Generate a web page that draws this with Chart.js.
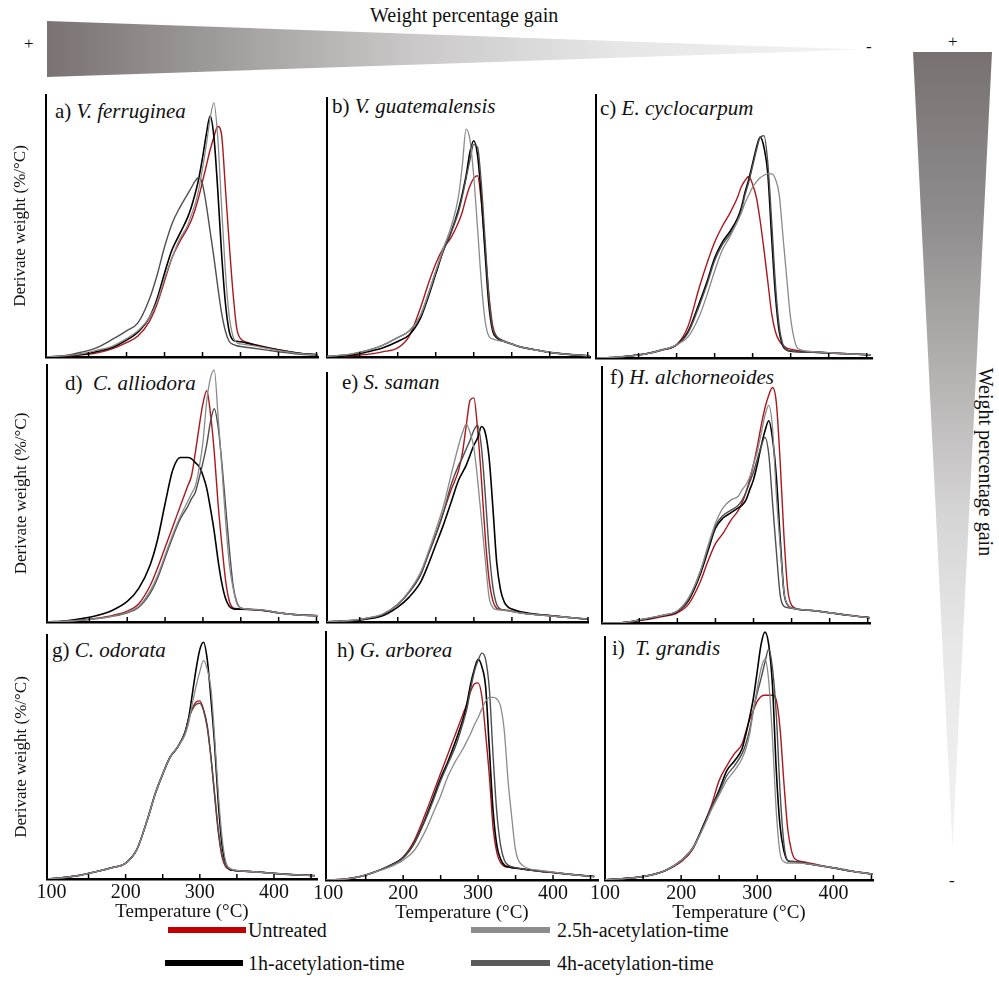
<!DOCTYPE html>
<html><head><meta charset="utf-8">
<script src="https://cdn.jsdelivr.net/npm/chart.js@4.4.0/dist/chart.umd.min.js"></script>
<style>
html,body{margin:0;padding:0;background:#fff;}
body{width:999px;height:995px;position:relative;overflow:hidden;font-family:"Liberation Serif","Times New Roman",serif;color:#111;}
canvas{position:absolute;}
.t{position:absolute;white-space:nowrap;line-height:1;}
.pl{font-size:21px;}
.pl i{font-style:italic;}
.bar{position:absolute;height:6px;}
.lg{font-size:20px;}
.tri{position:absolute;}
</style></head><body>
<div class="tri" id="triTop" style="left:47px;top:21px;width:814px;height:56px;clip-path:polygon(0 0,100% 51%,0 100%);background:linear-gradient(to right,#7a7273 0%,#a19d9d 22%,#cac8c8 45%,#e6e6e6 70%,#f3f3f3 100%);"></div>
<div class="tri" id="triRight" style="left:913px;top:52px;width:79px;height:796px;clip-path:polygon(0 0,100% 0,50% 100%);background:linear-gradient(to bottom,#787172 0%,#8f8b8c 20%,#b3b0b0 40%,#d6d5d5 58%,#e8e8e8 75%,#f2f2f2 100%);"></div>
<div class="t" style="left:24px;top:35px;font-size:17px;">+</div>
<div class="t" style="left:866px;top:38px;font-size:17px;">-</div>
<div class="t" style="left:948px;top:33px;font-size:17px;">+</div>
<div class="t" style="left:949px;top:872px;font-size:17px;">-</div>
<div class="t" style="left:370px;top:5px;font-size:20px;">Weight percentage gain</div>
<div class="t" style="left:975px;top:462px;font-size:20px;transform:translate(0,-50%) rotate(90deg);transform-origin:0 50%;">&nbsp;</div>
<div class="t" id="rtext" style="font-size:20px;position:absolute;left:986px;top:462px;transform:translate(-50%,-50%) rotate(90deg);">Weight percentage gain</div>

<div class="t pl" style="left:55px;top:101px;">a) <i>V. ferruginea</i></div>
<div class="t pl" style="left:332px;top:96px;">b) <i>V. guatemalensis</i></div>
<div class="t pl" style="left:600px;top:98px;">c) <i>E. cyclocarpum</i></div>
<div class="t pl" style="left:65px;top:373px;">d)&nbsp; <i>C. alliodora</i></div>
<div class="t pl" style="left:342px;top:372px;">e) <i>S. saman</i></div>
<div class="t pl" style="left:610px;top:367px;">f) <i>H. alchorneoides</i></div>
<div class="t pl" style="left:52px;top:640px;">g) <i>C. odorata</i></div>
<div class="t pl" style="left:337px;top:640px;">h) <i>G. arborea</i></div>
<div class="t pl" style="left:612px;top:638px;">i)&nbsp; <i>T. grandis</i></div>

<div class="bar" style="left:168px;top:927px;width:78px;background:#c00000;"></div>
<div class="t lg" style="left:248px;top:920px;">Untreated</div>
<div class="bar" style="left:165px;top:960px;width:78px;background:#000;"></div>
<div class="t lg" style="left:248px;top:953px;">1h-acetylation-time</div>
<div class="bar" style="left:471px;top:927px;width:79px;background:#8c8c8c;"></div>
<div class="t lg" style="left:557px;top:920px;">2.5h-acetylation-time</div>
<div class="bar" style="left:471px;top:960px;width:79px;background:#5a5a5a;"></div>
<div class="t lg" style="left:557px;top:953px;">4h-acetylation-time</div>

<script>
// ---- data ----
const temperature = [95,120,140,160,180,200,215,230,240,250,260,270,280,285,290,295,300,305,310,315,320,325,330,335,340,345,350,360,380,400,425,455];
const tickValues = [150,200,250,300,350,400,450];
const tickLabelValues = [100,200,300,400];
const seriesLabels = ['Untreated','1h-acetylation-time','2.5h-acetylation-time','4h-acetylation-time'];

// a) V. ferruginea
const aUntreated = [0,0.3,0.8,1.5,3,5.5,8,13.5,20,29,38,44,49,52,56,61,67,73,79,84,88,85,65,44,25,11,7,5.5,4,2.8,1.5,0.8];
const a1h = [0,0.4,1,2,3.5,6.5,9.5,15,22,32,41,47,53,57,62,68,76,85,92,84,64,40,21,10,6.5,6,5.8,5.2,3.8,2.7,1.5,0.8];
const a25h = [0,0.5,1.2,2.5,4,7,10,15,21,30,38,45,50,54,58,64,72,81,91,97,84,58,33,16,8,5.5,5,4.6,3.6,2.5,1.4,0.7];
const a4h = [0,0.6,1.8,3.5,6.5,10,13,22,31,42,51,57,62,64.5,67,68.5,66,58,48,38,27,17,10,6,4.8,4.3,4,3.6,2.8,2,1.1,0.6];
// b) V. guatemalensis
const bUntreated = [0,0.2,0.5,1,2,3.5,8,19,28,36,42,46,52,56,61.5,66,69,70,60,42,24,12,8,6.8,6,5.5,5,4,2.8,1.8,1,0.4];
const b1h = [0,0.3,0.8,2,3.5,6,8.5,15,23,32,41,48,57,63,70,79,83.5,78,62,40,20,10,7.5,6.5,6,5.5,5,4,2.8,1.8,1,0.4];
const b25h = [0,0.5,1.2,2.5,4.5,7.5,10,16,24,33,42,50,62,74,88,84,70,50,29,14,8,7,6.5,6.2,6,5.5,5,4,2.8,1.8,1,0.4];
const b4h = [0,0.5,1.2,2.5,4.5,7.5,10,16,24,33,41,48,56,62,69,76,82,81,67,45,23,11,8,6.8,6.2,5.6,5,4,2.8,1.8,1,0.4];
// c) E. cyclocarpum
const cUntreated = [0,0.3,0.8,1.6,3,5,12,27,36,44,50,55,61,65,67.5,69,66,61,52,41,29,17,10,6.5,4.8,3.8,3.4,2.8,2.4,2,1.6,1.2];
const c1h = [0,0.3,0.8,1.6,3,5,10,21,29,38,44,48,53,57,63,68,74,80,84,80,70,46,24,10,4.5,3,2.6,2.4,2.2,1.9,1.6,1.2];
const c25h = [0,0.3,0.8,1.6,3,5,8,16,24,33,41,46,52,55,59,62,65,67,68.5,69.5,70,70,68,62,46,30,15,3.5,2.4,2,1.6,1.2];
const c4h = [0,0.3,0.8,1.6,3,5,9.5,20,28,37,43,47,52,56,62,67,73,79,84,84.5,74,52,28,12,5,3.2,2.7,2.4,2.2,1.9,1.6,1.2];
// d) C. alliodora
const dUntreated = [0,0.3,0.8,1.5,2.5,4.2,7,14,21,29,37,45,53,57,66,76,85,90,81,66,46,30,16,8,5.5,5.2,5,4.9,4.5,3.6,2.8,2.4];
const d1h = [0,0.5,1.3,2.5,4.5,8,13,22,32,46,59,64,64,63.5,62,60.5,57,52,44,35,24,15,9,6,5.2,5,5,4.9,4.5,3.6,2.8,2.4];
const d25h = [0,0.3,0.7,1.3,2.2,3.8,6,12,18,26,34,41,47,50,53,60,70,86,95,98,80,60,39,22,13,7,5.5,5,4.6,3.6,2.8,2.4];
const d4h = [0,0.3,0.7,1.3,2.2,3.6,5.7,11,17,25,33,40,45,48,50.5,56,62,69,78,83,76,62,45,28,14,7.5,5.5,5,4.6,3.6,2.8,2.4];
// e) S. saman
const eUntreated = [0,0.3,0.6,1.5,3,7,12,19,27,35,44,53,61,68,79,89,90,77,57,34,17,8.5,5.5,5,4.8,4.6,4.3,3.7,3,2.5,1.8,1];
const e1h = [0,0.2,0.5,1.2,2.5,6,10,16,23,31,39,48,57,60,63,67,71,74,78.5,76,66,46,24,13,8,6,5.2,4.2,3.2,2.6,1.8,1];
const e25h = [0,0.3,0.7,1.6,3.2,7.2,12.5,20,28,37,46.5,59,71,76,79.5,76,70,57,41,25,10,5.8,5,4.8,4.6,4.5,4.3,3.7,3,2.5,1.8,1];
const e4h = [0,0.3,0.6,1.5,3,7,12,19,27,35,44,55,63,66,69.5,73,77,79,70,51,29,14,7,5.2,4.8,4.6,4.3,3.7,3,2.5,1.8,1];
// f) H. alchorneoides
const fUntreated = [0,0,0.5,1.3,2.5,4,7.5,16,24,31,35,40,44,47,51,56,62,69,77,84,89,92,86,63,34,13,7,5.3,4.8,4,3,2];
const f1h = [0,0,0.6,1.6,2.8,4.5,9,19,28,37,41,43,45,46,48,52,56,62,69,75,79,72,57,33,12,7,5.9,5.3,4.8,4,3,2];
const f25h = [0,0,0.6,1.8,3,4.8,10,20,30,39,45,48,49.5,52,54,57,62,67,74,81,85,76,50,30,12,7,5.9,5.3,4.8,4,3,2];
const f4h = [0,0,0.6,1.7,3,4.6,9.5,20,29,38,42,44,46,48,51,55,59,64,69,72.5,66,47,28,11,6.5,6,5.7,5.3,4.8,4,3,2];
// g) C. odorata
const gUntreated = [0,0.7,1.6,3,4.5,6.5,12,25,35,43,50,54,60,66,70,72.5,73,69.5,63,50,34,19,9,5,4,3.6,3.4,3.2,2.8,2.3,1.8,1.4];
const g1h = [0,0.7,1.6,3,4.5,6.5,12,25,35,43,50,54,60,66,76,86,94,97,90,74,55,31,14,6,4,3.6,3.4,3.2,2.8,2.3,1.8,1.4];
const g25h = [0,0.7,1.6,3,4.5,6.5,12,25,35,43,50,54,59,64,72,79,85,89.5,86,78,58,35,17,7,4.5,3.8,3.5,3.2,2.8,2.3,1.8,1.4];
const g4h = [0,0.7,1.6,3,4.5,6.5,12,25,35,43,50,54,60,65.5,69.5,71.5,72,69,62,50,35,20,10,5.5,4.2,3.7,3.4,3.2,2.8,2.3,1.8,1.4];
// h) G. arborea
const hUntreated = [0,0.3,1.2,3,5.5,9.3,16,27,35,43,51,59,67,71,76,79,79.5,74,59,42,21,11,7,5.5,5.2,5,4.8,4.4,3.6,3,2.2,1.4];
const h1h = [0,0.3,1.2,3,5.5,9,15,25,33,41,48,56,65,71,79,85,89,86,78,53,28,14,8.5,6,5.3,5,4.8,4.4,3.6,3,2.2,1.4];
const h25h = [0,0.3,1.2,3,5,8,12,20,27,34,42,48,53,56,59,62.5,65.5,69,72,73.6,73.6,73,70,60,40,25,12,5.8,4,3.2,2.2,1.4];
const h4h = [0,0.3,1.2,3,5.5,9,15,24.5,32,40,47,54,63.5,69,77,84,88.6,91.5,89,77,50,27,14,8,6,5.4,5,4.4,3.6,3,2.2,1.4];
// i) T. grandis
const iUntreated = [0,0.5,1,2,4,7.5,12.5,23,31,41,47,52,56,61,66,70,73.5,75.5,76,76,76,74,62,40,21,12,8.5,7.5,6.2,5,3.6,2.3];
const i1h = [0,0.5,1,2,4,8,13,23,30,37,45,49,54,60,67,75,86,97,102,97,80,45,22,12,8,7.6,7.5,7,6,5,3.6,2.3];
const i25h = [0,0.5,1,2,4,8,13,22,29,35,41,45,50,54,60,70,79,87,91,82,58,28,11,7.5,7,7,7,6.8,6,5,3.6,2.3];
const i4h = [0,0.5,1,2,4,8,13,22.5,30,36,43,47,52,56,62,70,77,83,89.5,95,87,68,36,15,8,7.6,7.5,7,6,5,3.6,2.3];

// ---- layout (panel plot boxes in page pixels, x ranges in °C) ----
const panels = [
  {box:[46,95,318,357],  xr:[94,452],  row:0, col:0, s:[aUntreated,a1h,a25h,a4h]},
  {box:[327,98,590,357], xr:[107,453], row:0, col:1, s:[bUntreated,b1h,b25h,b4h]},
  {box:[596,95,872,358], xr:[94,457],  row:0, col:2, s:[cUntreated,c1h,c25h,c4h]},
  {box:[47,365,318,622], xr:[94,452],  row:1, col:0, s:[dUntreated,d1h,d25h,d4h]},
  {box:[327,373,588,622],xr:[107,450], row:1, col:1, s:[eUntreated,e1h,e25h,e4h]},
  {box:[602,367,870,623],xr:[101,453], row:1, col:2, s:[fUntreated,f1h,f25h,f4h]},
  {box:[47,635,317,879], xr:[94,458],  row:2, col:0, s:[gUntreated,g1h,g25h,g4h]},
  {box:[326,632,598,880],xr:[97,460],  row:2, col:1, s:[hUntreated,h1h,h25h,h4h]},
  {box:[605,637,873,880],xr:[100,452], row:2, col:2, s:[iUntreated,i1h,i25h,i4h]}
];
const lineColors = ['#a8181c','#000000','#8a8a8a','#4e4e4e'];
const lineWidths = [1.4,1.6,1.3,1.4];
const drawOrder = [2,3,1,0];
const FONT = "'Liberation Serif','Times New Roman',serif";

const innerTicks = {
  id:'innerTicks',
  afterDraw(chart){
    const {ctx, chartArea:ca, scales:{x}} = chart;
    ctx.save(); ctx.strokeStyle='#000'; ctx.lineWidth=1.5;
    for (const v of tickValues){
      const px = x.getPixelForValue(v);
      if (px < ca.left || px > ca.right+1) continue;
      ctx.beginPath(); ctx.moveTo(px, ca.bottom); ctx.lineTo(px, ca.bottom-5); ctx.stroke();
    }
    ctx.restore();
  }
};

const YW = 44, PT = 12, PR = 6;
panels.forEach(p => {
  const [L,T,R,B] = p.box;
  const bottomRow = p.row === 2, leftCol = p.col === 0;
  const PB = bottomRow ? 44 : 4;
  const cv = document.createElement('canvas');
  cv.width = (R-L) + YW + PR; cv.height = (B-T) + PT + PB;
  cv.style.left = (L-YW)+'px'; cv.style.top = (T-PT)+'px';
  document.body.appendChild(cv);
  const datasets = drawOrder.map(k => ({
    label: seriesLabels[k],
    data: temperature.map((t,i) => ({x:t, y:p.s[k][i]})),
    borderColor: lineColors[k], borderWidth: lineWidths[k],
    pointRadius: 0, fill:false, cubicInterpolationMode:'monotone',
    clip: {left:0, right:0, bottom:0, top:false}
  }));
  new Chart(cv, {
    type:'line',
    data:{datasets},
    options:{
      responsive:false, animation:false, devicePixelRatio:1,
      layout:{padding:{left:0, top:PT, right:PR, bottom:0}},
      plugins:{legend:{display:false}, tooltip:{enabled:false}},
      scales:{
        x:{type:'linear', min:p.xr[0], max:p.xr[1],
          afterFit: s => { s.height = PB; },
          afterBuildTicks: s => { s.ticks = tickLabelValues.map(v => ({value:v})); },
          grid:{display:false, drawTicks:false, tickLength:0},
          border:{display:true, color:'#000', width:2.5},
          ticks:{display:bottomRow, autoSkip:false, maxRotation:0, padding:2, color:'#111', font:{family:FONT, size:20}},
          title:{display:bottomRow, text:'Temperature (°C)', color:'#111', font:{family:FONT, size:19}, padding:{top:0,bottom:0}}
        },
        y:{min:0, max:100,
          afterFit: s => { s.width = YW; },
          grid:{display:false, drawTicks:false},
          border:{display:true, color:'#000', width:2},
          ticks:{display:false},
          title:{display:leftCol, text:'Derivate weight (%/°C)', color:'#111', font:{family:FONT, size:17}, padding:{top:8,bottom:0}}
        }
      }
    },
    plugins:[innerTicks]
  });
});
</script>
</body></html>
